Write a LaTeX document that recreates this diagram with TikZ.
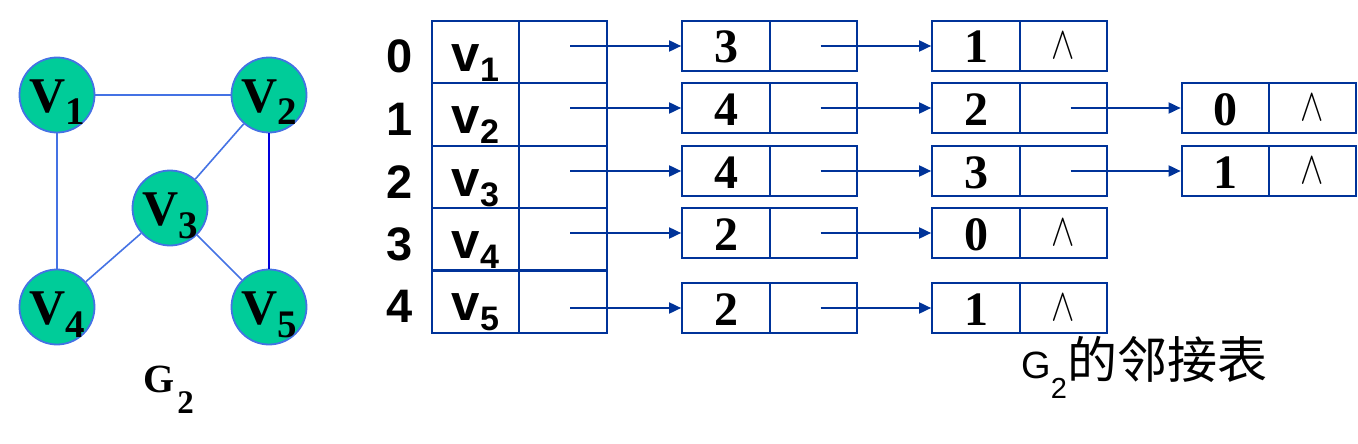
\documentclass[tikz,border=0pt]{standalone}
\usepackage{fontspec}
\setmainfont{Liberation Serif}
\newfontfamily\arialf{Liberation Sans}
\newfontfamily\cjkf{Noto Sans CJK SC}
\usetikzlibrary{arrows.meta,calc}
\definecolor{vfill}{RGB}{0,204,153}
\definecolor{vline}{RGB}{68,114,228}
\definecolor{tline}{RGB}{0,51,153}
\definecolor{dblue}{RGB}{0,0,220}
\newcommand\Vlab[1]{\raisebox{0pt}[34pt][0pt]{{\fontsize{50}{50}\selectfont\bfseries V}\raisebox{-13pt}{\fontsize{39}{39}\selectfont\bfseries #1}}}
\newcommand\vlab[1]{\raisebox{0pt}[38pt][0pt]{\arialf\bfseries{\fontsize{51}{51}\selectfont v}\raisebox{-10pt}{\fontsize{34}{34}\selectfont #1}}}
\newcommand\dig[1]{\raisebox{0pt}[34pt][0pt]{\fontsize{48}{48}\selectfont\bfseries #1}}
\newcommand\nil{\scalebox{3.5}[4.6]{$\wedge$}}
\begin{document}
\begin{tikzpicture}[x=1pt,y=-1pt,
  vert/.style={circle,draw=vline,line width=1.8pt,fill=vfill,minimum size=75pt,inner sep=0pt},
  edge/.style={draw=vline,line width=1.6pt},
  cell/.style={rectangle,draw=tline,line width=2.2pt,minimum width=87.5pt,minimum height=#1,inner sep=0pt},
  idx/.style={anchor=base,inner sep=0pt,font=\arialf\bfseries\fontsize{47}{47}\selectfont},
  arr/.style={draw=tline,line width=1.8pt,-{Triangle[length=12pt,width=11pt]}}]
\useasboundingbox (0,0) rectangle (1358,444);
% graph
\node[vert] (v1) at (57,95) {\Vlab{1}};
\node[vert] (v2) at (269,95) {\Vlab{2}};
\node[vert] (v3) at (170,208) {\Vlab{3}};
\node[vert] (v4) at (57,307) {\Vlab{4}};
\node[vert] (v5) at (269,307) {\Vlab{5}};
\draw[edge] (v1) -- (v2);
\draw[edge] (v1) -- (v4);
\draw[edge] (v2) -- (v3);
\draw[edge] (v3) -- (v4);
\draw[edge] (v3) -- (v5);
\draw[edge,draw=dblue] (v2) -- (v5);
\node[anchor=base west,inner sep=0pt] (g2) at (143,392) {{\fontsize{40}{40}\selectfont\bfseries G}\hspace{3pt}\raisebox{-21pt}{\fontsize{33}{33}\selectfont\bfseries 2}};
% head table
\foreach \i/\y in {0/52,1/114.5,2/177,3/239.5,4/301.5}{
  \node[cell=62.5pt] (h\i l) at (475.5,\y) {\vlab{\the\numexpr\i+1\relax}};
  \node[cell=62.5pt] (h\i r) at (563,\y) {};
  \node[idx] (n\i) at (400,\y+21) {\i};
}
% first column of list nodes
\foreach \i/\y/\d in {0/46/3,1/108/4,2/171/4,3/233/2,4/308/2}{
  \node[cell=50pt] (a\i l) at (726,\y) {\dig{\d}};
  \node[cell=50pt] (a\i r) at (813.5,\y) {};
}
% second column
\foreach \i/\y/\d in {0/46/1,1/108/2,2/171/3,3/233/0,4/308/1}{
  \node[cell=50pt] (b\i l) at (976,\y) {\dig{\d}};
}
\node[cell=50pt] (b0r) at (1063.5,46) {\nil};
\node[cell=50pt] (b1r) at (1063.5,108) {};
\node[cell=50pt] (b2r) at (1063.5,171) {};
\node[cell=50pt] (b3r) at (1063.5,233) {\nil};
\node[cell=50pt] (b4r) at (1063.5,308) {\nil};
% third column
\node[cell=50pt] (c1l) at (1225.5,108) {\dig{0}};
\node[cell=50pt] (c1r) at (1312.5,108) {\nil};
\node[cell=50pt] (c2l) at (1225.5,171) {\dig{1}};
\node[cell=50pt] (c2r) at (1312.5,171) {\nil};
% arrows
\foreach \i in {0,...,4}{
  \draw[arr] ($(h\i r.center |- a\i l.west)+(7,0)$) -- (a\i l.west);
  \draw[arr] ($(a\i r.center |- b\i l.west)+(7,0)$) -- (b\i l.west);
}
\draw[arr] ($(b1r.center |- c1l.west)+(7,0)$) -- (c1l.west);
\draw[arr] ($(b2r.center |- c2l.west)+(7,0)$) -- (c2l.west);
% caption
\node[anchor=base west,inner sep=0pt] (cap) at (1021,378) {{\arialf\fontsize{38}{38}\selectfont G}\raisebox{-20pt}{\arialf\fontsize{29}{29}\selectfont 2}\hspace{1pt}{\cjkf\fontsize{50}{50}\selectfont 的邻接表}};
\end{tikzpicture}
\end{document}
